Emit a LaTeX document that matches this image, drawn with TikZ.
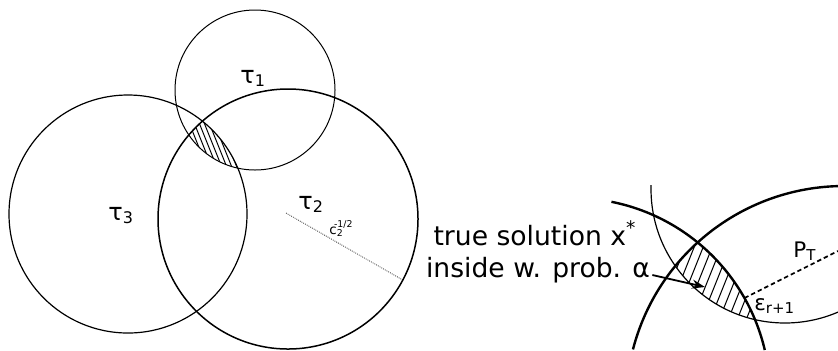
\documentclass[tikz,border=0pt]{standalone}
\usepackage{fontspec}
\setmainfont{DejaVu Sans}
\usetikzlibrary{arrows.meta,calc}
\tikzset{
  circ/.style={draw, line width=0.6pt},
  thinarc/.style={draw, line width=0.6pt},
  thickarc/.style={draw, line width=1.2pt},
  hatch/.style={line width=0.5pt},
  lbl/.style={font=\fontsize{12}{14}\selectfont, inner sep=0pt},
  smalllbl/.style={font=\fontsize{10.7}{13}\selectfont, inner sep=0pt},
  tinylbl/.style={font=\fontsize{6.7}{8}\selectfont, inner sep=0pt},
  txt/.style={font=\fontsize{13.3}{16}\selectfont, inner sep=0pt},
  arrow/.style={-{Stealth[length=6.5pt, width=4.5pt]}, line width=0.9pt},
  dashline/.style={dash pattern=on 2.2pt off 1.5pt, line width=0.85pt},
  dotline/.style={line width=0.35pt, dash pattern=on 0.4pt off 0.6pt}
}

\begin{document}
\begin{tikzpicture}[x=0.5pt, y=-0.5pt]
  \useasboundingbox (0,0) rectangle (838,350);

  % left: three regions tau_1, tau_2, tau_3
  \coordinate (c1) at (255,90);
  \coordinate (c2) at (288,219);
  \coordinate (c3) at (128,214);
  \begin{scope}
    \clip (c1) circle[radius=80];
    \clip (c2) circle[radius=130];
    \clip (c3) circle[radius=119];
    \foreach \i in {0,...,19}
      \draw[hatch] (150+5*\i,100) -- ++(32,80);
  \end{scope}
  \draw[circ, line width=0.5pt] (c1) circle[radius=80];
  \draw[circ, line width=0.75pt] (c2) circle[radius=130];
  \draw[circ] (c3) circle[radius=119];
  \coordinate (r2a) at (286,213);
  \draw[dotline] (r2a) -- ($(c2)+(28:130)$);

  \node[lbl, anchor=base west] (t1) at (240,83) {τ\textsubscript{1}};
  \node[lbl, anchor=base west] (t2) at (298,209) {τ\textsubscript{2}};
  \node[lbl, anchor=base west] (t3) at (108,220) {τ\textsubscript{3}};
  \node[tinylbl, anchor=base west] (cr2) at (329,234)
    {c\rlap{\kern-0.2em\textsuperscript{-1/2}}\textsubscript{2}};

  % right: zoom on the intersection
  \coordinate (cl) at (573,395);
  \coordinate (cm) at (785,189);
  \coordinate (cr) at (844,404);
  \begin{scope}
    \clip (cl) circle[radius=197];
    \clip (cm) circle[radius=134];
    \clip (cr) circle[radius=218];
    \foreach \i in {0,...,16}
      \draw[hatch] (665+9*\i,230) -- ++(-40,100);
  \end{scope}
  \draw[thickarc] ($(cl)+(-78.75:197)$) arc[start angle=-78.75, end angle=-13.2, radius=197];
  \draw[thinarc] ($(cm)+(181.7:134)$) arc[start angle=181.7, end angle=66, radius=134];
  \draw[thickarc] ($(cr)+(-165.5:218)$) arc[start angle=-165.5, end angle=-91.6, radius=218];
  \coordinate (pend) at (838,251);
  \draw[dashline] ($(cl)+(-29.5:197)$) -- (pend);

  \node[smalllbl, anchor=base west] (pt) at (793,257) {P\textsubscript{T}};
  \node[smalllbl, anchor=base west] (eps) at (754,310) {ε\textsubscript{r+1}};

  \node[txt, anchor=base] (sol1) at (535,245) {true solution x\textsuperscript{*}};
  \node[txt, anchor=base] (sol2) at (538,277) {inside w. prob. α};
  \coordinate (xstar) at (705,287);
  \draw[arrow] ([shift={(2,-2)}]sol2.base east) -- (xstar);
\end{tikzpicture}
\end{document}
